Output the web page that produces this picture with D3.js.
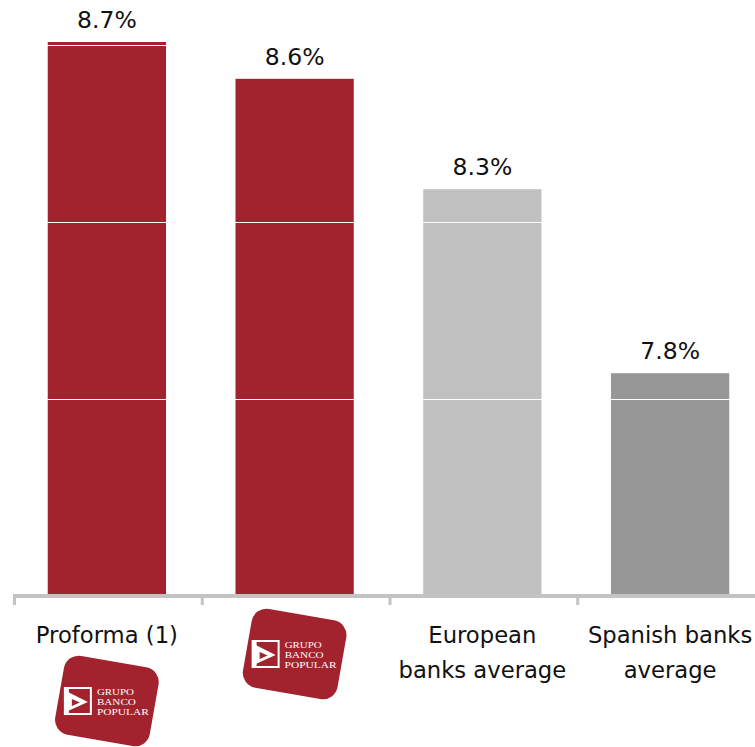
<!DOCTYPE html>
<html>
<head>
<meta charset="utf-8">
<script src="https://cdn.jsdelivr.net/npm/d3@7"></script>
<style>
  html, body { margin: 0; padding: 0; background: #fff; }
  svg { display: block; }
</style>
</head>
<body>
<svg id="chart" width="755" height="747"></svg>
<script>
// Core capital ratio by peer group
const categories = ["Proforma (1)", "Banco Popular", "European banks average", "Spanish banks average"];
const values = [8.7, 8.6, 8.3, 7.8];
const valueLabels = ["8.7%", "8.6%", "8.3%", "7.8%"];
const categoryLines = [["Proforma (1)"], [], ["European", "banks average"], ["Spanish banks", "average"]];
const showLogo = [true, true, false, false];
const barColors = ["#a2232e", "#a2232e", "#c0c0c0", "#979797"];
const gridValues = [7.73, 8.21, 8.693];
const yDomain = [7.2, 8.7];
const logoWords = ["GRUPO", "BANCO", "POPULAR"];

const svg = d3.select("#chart");
const W = 755;
const left = 13, right = 764, baseY = 594, topY = 42;

const x = d3.scaleBand()
  .domain(categories)
  .range([left, right])
  .paddingInner(0.37)
  .paddingOuter(0.185);

const y = d3.scaleLinear().domain(yDomain).range([baseY, topY]);

const step = x.step();
const bw = x.bandwidth();
const gap = (step - bw) / 2;

// bars
svg.append("g")
  .selectAll("rect")
  .data(categories)
  .join("rect")
  .attr("x", d => x(d))
  .attr("width", bw)
  .attr("y", (d, i) => y(values[i]))
  .attr("height", (d, i) => baseY - y(values[i]))
  .attr("fill", (d, i) => barColors[i]);

// white gridlines over the bars
svg.append("g")
  .selectAll("line")
  .data(gridValues)
  .join("line")
  .attr("x1", left).attr("x2", W)
  .attr("y1", d => Math.round(y(d)) + 0.5)
  .attr("y2", d => Math.round(y(d)) + 0.5)
  .attr("stroke", "#fff")
  .attr("stroke-width", 1.2);

// value labels
svg.append("g")
  .selectAll("text")
  .data(categories)
  .join("text")
  .attr("x", d => x(d) + bw / 2)
  .attr("y", (d, i) => y(values[i]) - 14)
  .attr("text-anchor", "middle")
  .attr("font-family", "'DejaVu Sans', Verdana, sans-serif")
  .attr("font-size", 23.5)
  .attr("fill", "#111")
  .text((d, i) => valueLabels[i]);

// category axis with ticks between groups
const axis = svg.append("g");
const tickXs = categories.map(c => x(c) - gap).concat([x(categories[categories.length - 1]) + bw + gap]);
axis.append("line")
  .attr("x1", left).attr("x2", W)
  .attr("y1", 596).attr("y2", 596)
  .attr("stroke", "#c3c3c3")
  .attr("stroke-width", 4);
axis.selectAll("line.tick")
  .data(tickXs)
  .join("line")
  .attr("class", "tick")
  .attr("x1", d => d + 1.5).attr("x2", d => d + 1.5)
  .attr("y1", 594).attr("y2", 605)
  .attr("stroke", "#c3c3c3")
  .attr("stroke-width", 3);

// category labels
const labels = svg.append("g")
  .attr("font-family", "'DejaVu Sans', Verdana, sans-serif")
  .attr("font-size", 22.7)
  .attr("fill", "#111")
  .attr("text-anchor", "middle");
categories.forEach((c, i) => {
  categoryLines[i].forEach((line, j) => {
    labels.append("text")
      .attr("x", x(c) + bw / 2)
      .attr("y", 643 + j * 35)
      .text(line);
  });
});

// Grupo Banco Popular badge
function drawLogo(g) {
  g.append("rect")
    .attr("x", -48).attr("y", -40)
    .attr("width", 96).attr("height", 80)
    .attr("rx", 15).attr("ry", 15)
    .attr("transform", "rotate(10)")
    .attr("fill", "#a2232e");
  const icon = g.append("g").attr("transform", "translate(-43,-14)");
  icon.append("rect")
    .attr("x", 1).attr("y", 1).attr("width", 26).attr("height", 26)
    .attr("fill", "none").attr("stroke", "#fff").attr("stroke-width", 2);
  icon.append("rect")
    .attr("x", 1).attr("y", 1).attr("width", 4).attr("height", 26)
    .attr("fill", "#fff");
  icon.append("polygon")
    .attr("points", "4,5 24,15 4,24")
    .attr("fill", "#fff");
  icon.append("polygon")
    .attr("points", "8,12 16,15.5 8,19")
    .attr("fill", "#a2232e");
  const t = g.append("g")
    .attr("font-family", "'Liberation Serif', 'Times New Roman', serif")
    .attr("font-size", 9)
    .attr("fill", "#fff");
  const widths = [37, 39, 52];
  logoWords.forEach((s, k) => {
    t.append("text")
      .attr("x", -10).attr("y", -6 + k * 10)
      .attr("textLength", widths[k])
      .attr("lengthAdjust", "spacingAndGlyphs")
      .text(s);
  });
}

categories.forEach((c, i) => {
  if (!showLogo[i]) return;
  const cy = categoryLines[i].length ? 701 : 654;
  const g = svg.append("g")
    .attr("transform", `translate(${x(c) + bw / 2},${cy})`);
  drawLogo(g);
});
</script>
</body>
</html>
